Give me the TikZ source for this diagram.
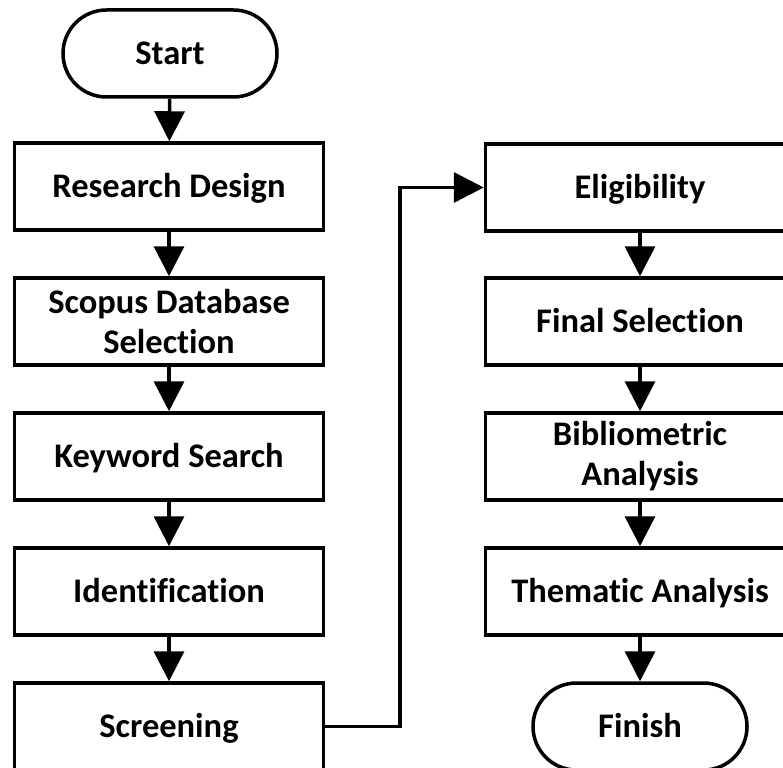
\documentclass[tikz,border=0pt]{standalone}
\usepackage{fontspec}
\setmainfont[Ligatures=NoCommon]{Carlito}
\usetikzlibrary{shapes.misc,arrows.meta}
\begin{document}
\begin{tikzpicture}[x=1pt,y=-1pt,
  every node/.style={font=\bfseries\fontsize{34.5}{40}\selectfont, align=center, inner sep=0pt},
  oneline/.style={text height=22pt, text depth=0pt},
  stepbox/.style={draw, line width=3.5pt, minimum width=309pt, minimum height=87pt},
  term/.style={draw, line width=3.5pt, rounded rectangle, minimum width=214pt, minimum height=87pt, oneline},
  flow/.style={line width=3.5pt, -{Triangle[length=30pt,width=30pt]}}]
\useasboundingbox (0,0) rectangle (783,767);
\clip (0,0) rectangle (783,767);
\node[term] (start) at (170,53.5) {Start};
\node[stepbox, oneline] (rd) at (169,186.5) {Research Design};
\node[stepbox] (sdb) at (169,321.5) {Scopus Database\\Selection};
\node[stepbox, oneline] (ks) at (169,456.5) {Keyword Search};
\node[stepbox, oneline] (id) at (169,591.5) {Identification};
\node[stepbox, oneline] (sc) at (169,726.5) {Screening};
\node[stepbox, oneline] (el) at (640,187.5) {Eligibility};
\node[stepbox, oneline] (fs) at (640,321.5) {Final Selection};
\node[stepbox] (ba) at (640,456.5) {Bibliometric\\Analysis};
\node[stepbox, oneline] (ta) at (640,591.5) {Thematic Analysis};
\node[term] (fin) at (640,726.5) {Finish};
\draw[flow] (start) -- (rd);
\draw[flow] (rd) -- (sdb);
\draw[flow] (sdb) -- (ks);
\draw[flow] (ks) -- (id);
\draw[flow] (id) -- (sc);
\draw[flow] (sc.east) -- (400,726.5) |- (el.west);
\draw[flow] (el) -- (fs);
\draw[flow] (fs) -- (ba);
\draw[flow] (ba) -- (ta);
\draw[flow] (ta) -- (fin);
\end{tikzpicture}
\end{document}
